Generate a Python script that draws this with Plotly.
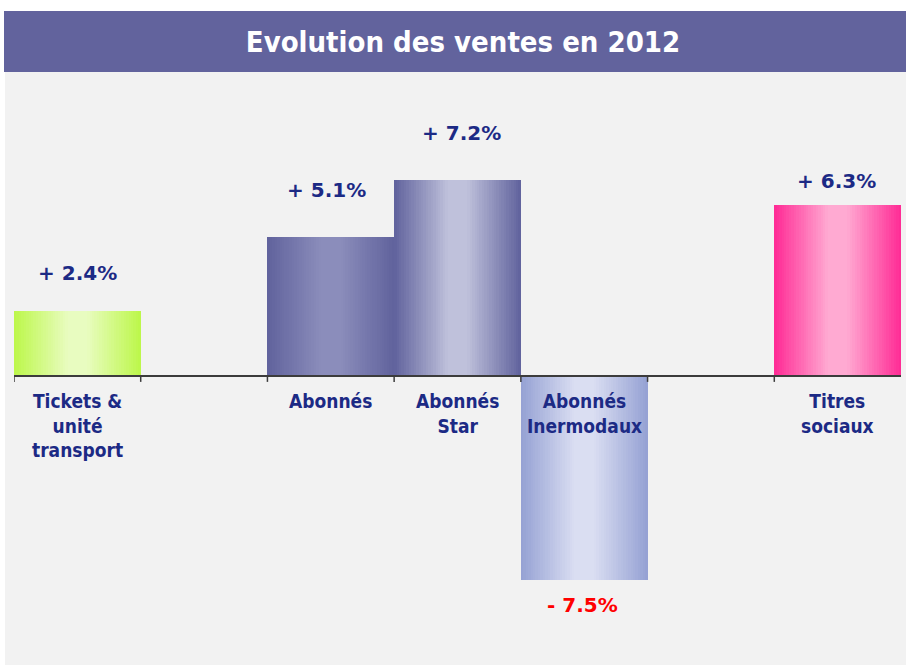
import plotly.graph_objects as go

# ---- data ----
categories = ["Tickets &<br>unité<br>transport", "", "Abonnés", "Abonnés<br>Star",
              "Abonnés<br>Inermodaux", "", "Titres<br>sociaux"]
values = [2.4, None, 5.1, 7.2, -7.5, None, 6.3]
value_labels = ["+ 2.4%", "", "+ 5.1%", "+ 7.2%", "- 7.5%", "", "+ 6.3%"]
title_text = "Evolution des ventes en 2012"

# ---- styles ----
edge_colors = ["#bdf74c", None, "#61639d", "#62649e", "#96a2d4", None, "#ff2d96"]
center_colors = ["#e8fcc0", None, "#8b8dbb", "#bfc1db", "#dadef2", None, "#ffaad2"]
label_shift = [38, 0, 47, 47, -25, 0, 24]
label_xshift = [0, 0, -4, 4, -2, 0, -1]
text_blue = "#1c2a85"

def hex2rgb(h):
    h = h.lstrip("#")
    return [int(h[i:i + 2], 16) for i in (0, 2, 4)]

def mix(a, b, t):
    ra, rb = hex2rgb(a), hex2rgb(b)
    return "rgb(%d,%d,%d)" % tuple(round(ra[i] + (rb[i] - ra[i]) * t) for i in range(3))

xs = list(range(len(categories)))
N = 26
fig = go.Figure()
for k in range(N):
    w = 1.0 - k / N
    t = min(1.0, (k / (N - 1)) * 1.15)
    cols = [mix(e, c, t) if e else "rgba(0,0,0,0)" for e, c in zip(edge_colors, center_colors)]
    fig.add_trace(go.Bar(x=xs, y=values, width=[w] * len(xs), marker=dict(color=cols, line=dict(width=0)),
                         hoverinfo="skip", showlegend=False))

# px geometry
L, R, T, B = 14, 5, 90, 25
W, H = 906, 665
pw, ph = W - L - R, H - T - B

def px(x):
    return (x - L) / pw

def py(y):
    return (H - B - y) / ph

shapes = [
    dict(type="rect", xref="paper", yref="paper", x0=px(5), x1=px(906), y0=py(665), y1=py(72),
         fillcolor="#f2f2f2", line=dict(width=0), layer="below"),
    dict(type="rect", xref="paper", yref="paper", x0=px(4), x1=px(906), y0=py(72), y1=py(11),
         fillcolor="#62639d", line=dict(width=0), layer="below"),
    dict(type="line", xref="x domain", yref="y", x0=0, x1=1, y0=0, y1=0,
         line=dict(color="#3c3c3c", width=2), layer="above"),
]
for i in range(len(categories)):
    shapes.append(dict(type="line", xref="x", yref="y", ysizemode="pixel", yanchor=0,
                       x0=i - 0.5, x1=i - 0.5, y0=0, y1=-6,
                       line=dict(color="#3c3c3c", width=1.5), layer="above"))

annotations = []
for i, (c, v, lab) in enumerate(zip(categories, values, value_labels)):
    if c:
        annotations.append(dict(x=i, y=0, xref="x", yref="y", text=c, showarrow=False,
                                yanchor="top", yshift=-12,
                                font=dict(family="DejaVu Sans Condensed, DejaVu Sans", size=19,
                                          color=text_blue, weight="bold")))
    if v is not None:
        annotations.append(dict(x=i, y=v, xref="x", yref="y", text=lab, showarrow=False,
                                yanchor="middle", yshift=label_shift[i], xshift=label_xshift[i],
                                font=dict(family="DejaVu Sans", size=20,
                                          color="#ff0000" if v < 0 else text_blue, weight="bold")))

fig.update_layout(
    width=W, height=H, barmode="overlay", bargap=0,
    margin=dict(l=L, r=R, t=T, b=B),
    paper_bgcolor="white", plot_bgcolor="rgba(0,0,0,0)",
    title=dict(text=title_text, x=463 / W, y=1 - 42 / H, xanchor="center", yanchor="middle",
               font=dict(family="DejaVu Sans Condensed, DejaVu Sans", size=29, color="white", weight="bold")),
    xaxis=dict(range=[-0.5, len(categories) - 0.5], visible=False, fixedrange=True),
    yaxis=dict(range=[-9.71, 10.51], visible=False, zeroline=False, showgrid=False, fixedrange=True),
    shapes=shapes, annotations=annotations,
)

fig.write_html("out.html", config={"displayModeBar": False},
               post_script="document.body.style.margin='0';document.body.style.overflow='hidden';")
